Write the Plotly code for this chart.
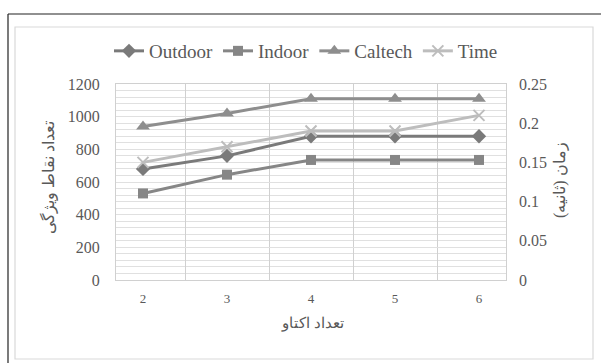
import plotly.graph_objects as go

# ---- data ----
categories = ["2", "3", "4", "5", "6"]
outdoor = [680, 760, 880, 880, 880]
indoor = [530, 645, 735, 735, 735]
caltech = [940, 1020, 1110, 1110, 1110]
time_s = [0.15, 0.17, 0.19, 0.19, 0.21]

left_title = "تعداد نقاط ویژگی"
right_title = "زمان (ثانیه)"
x_title = "تعداد اکتاو"

# ---- layout geometry (pixels) ----
W, H = 601, 363
L, R, T, B = 116, 506, 84, 280  # plot area edges


def px(xp):
    return (xp - L) / (R - L)


def py(yp):
    return (B - yp) / (B - T)


FONT = "Liberation Serif"
TXT = "#595959"

fig = go.Figure()
fig.add_trace(go.Scatter(x=categories, y=outdoor, name="Outdoor", mode="lines+markers",
                         line=dict(color="#7a7a7a", width=3),
                         marker=dict(symbol="diamond", size=11, color="#7a7a7a")))
fig.add_trace(go.Scatter(x=categories, y=indoor, name="Indoor", mode="lines+markers",
                         line=dict(color="#868686", width=3),
                         marker=dict(symbol="square", size=10, color="#868686")))
fig.add_trace(go.Scatter(x=categories, y=caltech, name="Caltech", mode="lines+markers",
                         line=dict(color="#8e8e8e", width=3),
                         marker=dict(symbol="triangle-up", size=12, color="#8e8e8e")))
fig.add_trace(go.Scatter(x=categories, y=time_s, name="Time", mode="lines+markers", yaxis="y2",
                         line=dict(color="#bdbdbd", width=3),
                         marker=dict(symbol="x-thin", size=11, color="#bdbdbd",
                                     line=dict(color="#bdbdbd", width=2))))

shapes = [
    # outer black frame (left and top)
    dict(type="line", xref="paper", yref="paper", x0=px(8), y0=py(363), x1=px(8), y1=py(14),
         line=dict(color="#222222", width=1.2)),
    dict(type="line", xref="paper", yref="paper", x0=px(8), y0=py(14), x1=px(601), y1=py(14),
         line=dict(color="#222222", width=1.2)),
    # inner light frame
    dict(type="rect", xref="paper", yref="paper", x0=px(15), y0=py(359), x1=px(593), y1=py(27),
         line=dict(color="#d9d9d9", width=1.2)),
]

annotations = [
    dict(text=left_title, xref="paper", yref="paper", x=px(48), y=py(178), showarrow=False,
         textangle=-90, font=dict(family=FONT, size=16, color=TXT), xanchor="center", yanchor="middle"),
    dict(text=right_title, xref="paper", yref="paper", x=px(560), y=py(180), showarrow=False,
         textangle=-90, font=dict(family=FONT, size=16, color=TXT), xanchor="center", yanchor="middle"),
    dict(text=x_title, xref="paper", yref="paper", x=px(312), y=py(323), showarrow=False,
         font=dict(family=FONT, size=15, color=TXT), xanchor="center", yanchor="middle"),
]

fig.update_layout(
    width=W, height=H,
    margin=dict(l=L, r=W - R, t=T, b=H - B, pad=0),
    paper_bgcolor="white", plot_bgcolor="white",
    font=dict(family=FONT, color=TXT),
    showlegend=True,
    legend=dict(orientation="h", x=px(306), y=py(51), xanchor="center", yanchor="middle",
                font=dict(family=FONT, size=19, color=TXT), itemwidth=30,
                bgcolor="rgba(0,0,0,0)", tracegroupgap=0),
    xaxis=dict(type="category", tickson="boundaries", showgrid=True, gridcolor="#d0d0d0",
               gridwidth=1, showline=True, linecolor="#d0d0d0", mirror=True, ticks="",
               tickfont=dict(family=FONT, size=13, color=TXT), ticklabelstandoff=6,
               zeroline=False, fixedrange=True),
    yaxis=dict(range=[0, 1200], dtick=200, showgrid=True, gridcolor="#e0e0e0", gridwidth=1,
               minor=dict(dtick=40, showgrid=True, gridcolor="#e0e0e0", gridwidth=1),
               showline=True, linecolor="#d0d0d0", mirror=True, ticks="", zeroline=False,
               tickfont=dict(family=FONT, size=16, color=TXT), ticklabelstandoff=12),
    yaxis2=dict(range=[0, 0.25], dtick=0.05, overlaying="y", side="right", showgrid=False,
                zeroline=False, ticks="", showline=False,
                tickfont=dict(family=FONT, size=16, color=TXT), ticklabelstandoff=12),
    shapes=shapes,
    annotations=annotations,
)

fig.write_html("out.html")
